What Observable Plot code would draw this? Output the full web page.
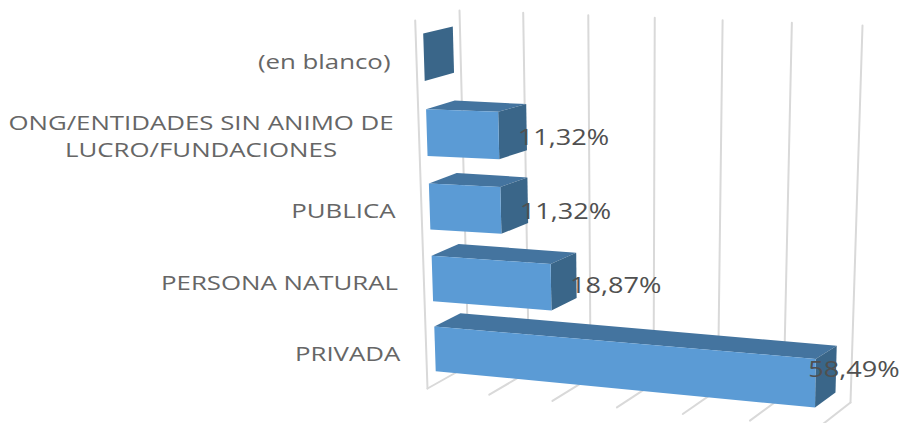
<!DOCTYPE html>
<html>
<head>
<meta charset="utf-8">
<script src="https://cdn.jsdelivr.net/npm/d3@7"></script>
<script src="https://cdn.jsdelivr.net/npm/@observablehq/plot@0.6"></script>
<style>html,body{margin:0;padding:0;background:#fff}svg{display:block}</style>
</head>
<body>
<script>
// Data, bottom to top
const categories = ["PRIVADA", "PERSONA NATURAL", "PUBLICA", "ONG/ENTIDADES SIN ANIMO DE\nLUCRO/FUNDACIONES", "(en blanco)"];
const values = [58.49, 18.87, 11.32, 11.32, 0];
const valueLabels = ["58,49%", "18,87%", "11,32%", "11,32%", ""];
const gridValues = [0, 10, 20, 30, 40, 50, 60];

// The 3D view: where the corners of the chart box land on the page
const view = {
  floorFront: [[427, 388], [818, 427]],
  floorBack: [[468, 365], [850, 402]],
  topFront: [[414.7, 20], [822, 23]],
  topBack: [[459, 10], [862, 25]]
};
const lerp = (a, b, t) => a + (b - a) * t;
const mix = (p, q, t) => [lerp(p[0], q[0], t), lerp(p[1], q[1], t)];
function project(v, h, d) {
  const t = v / 60, f = t * (0.938 + 0.062 * t); // perspective foreshortening along the value axis
  const front = mix(mix(view.floorFront[0], view.floorFront[1], f), mix(view.topFront[0], view.topFront[1], f), h);
  const back = mix(mix(view.floorBack[0], view.floorBack[1], f), mix(view.topBack[0], view.topBack[1], f), h);
  return mix(front, back, d);
}
const depthBack = 0.84;
const level = i => 0.0955 + 0.1907 * i + 0.0023 * i * i;
const halfBar = i => 0.0612 + 0.0009 * i;
const depthFront = i => 0.21 - 0.01 * i;

const rows = categories.map((c, i) => ({c, i, v: values[i], label: valueLabels[i]}));
const face = (corners) => rows.flatMap(r => corners(r).map(p => {
  const [x, y] = project(...p);
  return {id: r.c, x, y, v: r.v};
}));
const lo = r => level(r.i) - halfBar(r.i), hi = r => level(r.i) + halfBar(r.i), df = r => depthFront(r.i);
const frontFace = face(r => [[0, lo(r), df(r)], [r.v, lo(r), df(r)], [r.v, hi(r), df(r)], [0, hi(r), df(r)]]).filter(d => d.v > 0);
const topFace = face(r => [[0, hi(r), df(r)], [r.v, hi(r), df(r)], [r.v, hi(r), depthBack], [0, hi(r), depthBack]]).filter(d => d.v > 0);
const sideFace = face(r => [[r.v, lo(r), df(r)], [r.v, lo(r), depthBack], [r.v, hi(r), depthBack], [r.v, hi(r), df(r)]]);

const seg = (id, a, b) => [a, b].map(p => { const [x, y] = project(...p); return {id, x, y}; });
const grid = gridValues.flatMap(v => [
  ...seg("w" + v, [v, 0, 1], [v, 1, 1]),
  ...seg("f" + v, [v, 0, 0], [v, 0, 1])
]).concat(seg("left", [0, 0, 0], [0, 1, 0]));

const pos = (h, v, d) => { const [x, y] = project(v, h, d); return {x, y}; };
// small vertical nudges of the labels, bottom to top
const catNudge = [1, 1.5, 2.2, 0.5, 3];
const valNudge = [3.3, -0.5, 1.5, 2.5, 0];
const catLabels = rows.map(r => { const p = pos(level(r.i), 0, 0); return {...r, x: p.x, y: p.y + catNudge[r.i]}; });
const valLabels = rows.filter(r => r.v > 0).map(r => { const p = pos(level(r.i), r.v, df(r)); return {...r, x: p.x, y: p.y + valNudge[r.i]}; });
const font = "'Open Sans', sans-serif";

const chart = Plot.plot({
  width: 901, height: 423,
  marginTop: 0, marginRight: 0, marginBottom: 0, marginLeft: 0,
  x: {domain: [0, 901], range: [0, 901], axis: null},
  y: {domain: [0, 423], range: [0, 423], axis: null},
  style: {background: "#fff"},
  marks: [
    Plot.line(grid, {x: "x", y: "y", z: "id", stroke: "#d9d9d9", strokeWidth: 2}),
    Plot.line(topFace, {x: "x", y: "y", z: "id", fill: "#44749f", stroke: "none"}),
    Plot.line(sideFace, {x: "x", y: "y", z: "id", fill: "#3a6689", stroke: "none"}),
    Plot.line(frontFace, {x: "x", y: "y", z: "id", fill: "#5b9bd5", stroke: "none"}),
    Plot.text(catLabels.filter(d => !d.c.includes("\n")), {x: "x", y: "y", text: "c", textAnchor: "end", dx: -26, fontSize: 20, fontFamily: font, fill: "#666", className: "cat"}),
    Plot.text(catLabels.filter(d => d.c.includes("\n")), {x: "x", y: "y", text: "c", textAnchor: "middle", dx: -218, dy: -1, lineHeight: 1.35, fontSize: 20, fontFamily: font, fill: "#666", className: "cat"}),
    Plot.text(valLabels.filter(d => d.v < 50), {x: "x", y: "y", text: "label", textAnchor: "start", dx: 19, fontSize: 21, fontFamily: font, fill: "#505050", className: "val"}),
    Plot.text(valLabels.filter(d => d.v >= 50), {x: "x", y: "y", text: "label", textAnchor: "start", dx: -7, dy: -16, fontSize: 21, fontFamily: font, fill: "#505050", className: "val"})
  ]
});
document.body.appendChild(chart);

// The reference's text is stretched horizontally
function stretch(selector, factor) {
  chart.querySelectorAll(selector).forEach(el => {
    const parts = el.querySelectorAll("tspan");
    (parts.length ? [...parts] : [el]).forEach(t => {
      t.setAttribute("textLength", t.getComputedTextLength() * factor);
      t.setAttribute("lengthAdjust", "spacingAndGlyphs");
    });
  });
}
stretch(".cat text", 1.29);
stretch(".val text", 1.29);
</script>
</body>
</html>
